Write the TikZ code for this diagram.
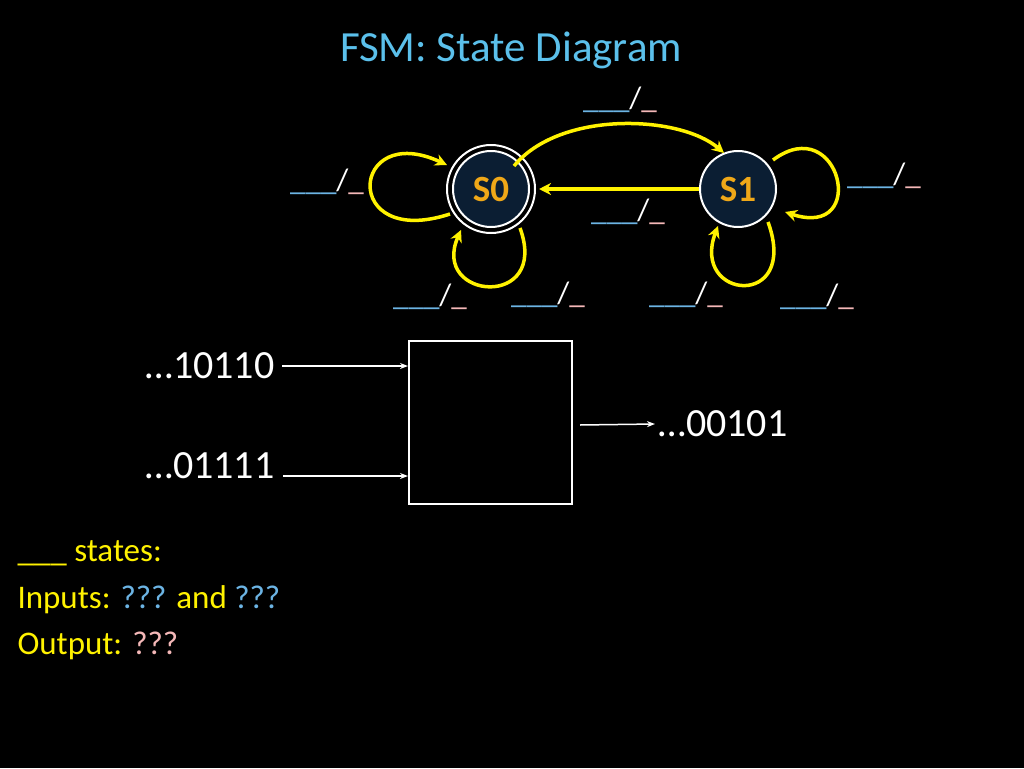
\documentclass[tikz,border=0pt]{standalone}
\usepackage{fontspec}
\setmainfont{Carlito}
\usetikzlibrary{arrows.meta}
\definecolor{ttl}{HTML}{5BC0EB}
\definecolor{bl}{HTML}{6CB4E4}
\definecolor{pk}{HTML}{F4B8B8}
\definecolor{yl}{HTML}{FFF200}
\definecolor{nv}{HTML}{0B1E33}
\definecolor{og}{HTML}{F0A818}
\begin{document}
\begin{tikzpicture}[x=1pt,y=-1pt,
 st/.style={circle,draw=white,line width=2pt,fill=nv,minimum size=76pt,inner sep=0pt,text=og,font=\bfseries\fontsize{37}{37}\selectfont},
 tr/.style={yl,line width=3.5pt,-{Stealth[length=12pt,width=12pt]}},
 lb/.style={font=\fontsize{31}{31}\selectfont,text=white},
 big/.style={font=\fontsize{40}{40}\selectfont,text=white},
 txt/.style={font=\fontsize{33}{33}\selectfont,anchor=west,text=yl}]
\fill[black] (0,0) rectangle (1024,768);
\node[font=\fontsize{43}{43}\selectfont,text=ttl] (title) at (511,50) {FSM: State Diagram};
\node[st] (s0) at (491,189) {S0};
\draw[white,line width=2pt] (s0.center) circle (44);
\node[st] (s1) at (738,189) {S1};
\draw[tr] (514,166) .. controls (560,110) and (680,115) .. (724,153);
\draw[tr] (s1.west) -- (539,189);
\draw[tr] (450,214) .. controls (340,250) and (350,120) .. (447,165);
\draw[tr] (520,228) .. controls (550,310) and (430,300) .. (461,230);
\draw[tr] (773,160) .. controls (840,110) and (870,240) .. (785,212);
\draw[tr] (768,222) .. controls (800,310) and (690,300) .. (718,226);
\newcommand{\lbl}{\textcolor{bl}{\_\_\_}/\textcolor{pk}{\_}}
\node[lb] (l1) at (620,100) {\lbl};
\node[lb] (l2) at (327,182) {\lbl};
\node[lb] (l3) at (884,176) {\lbl};
\node[lb] (l4) at (628,212) {\lbl};
\node[lb] (l5) at (430,297) {\lbl};
\node[lb] (l6) at (548,295) {\lbl};
\node[lb] (l7) at (686,295) {\lbl};
\node[lb] (l8) at (817,297) {\lbl};
\node[draw=white,line width=2pt,minimum width=163pt,minimum height=163pt] (box) at (490.5,422.5) {};
\node[big,anchor=east] (i1) at (278,366) {\dots10110};
\node[big,anchor=east] (i2) at (278,466) {\dots01111};
\node[big,anchor=west] (o) at (655,424) {\dots00101};
\draw[white,line width=1.5pt,-{Stealth[length=8pt]}] (i1.east) ++(4,0) -- (box.west |- i1.east);
\draw[white,line width=1.5pt,-{Stealth[length=8pt]}] (283,476) coordinate (a2) -- (box.west |- a2);
\coordinate (c) at (580,425);
\draw[white,line width=1.5pt,-{Stealth[length=8pt]}] (c) -- (o.west);
\node[txt] (t1) at (14,553) {\_\_\_ states:};
\node[txt] (t2) at (14,600) {Inputs: \textcolor{bl}{???} and \textcolor{bl}{???}};
\node[txt] (t3) at (14,646) {Output: \textcolor{pk}{???}};
\end{tikzpicture}
\end{document}
